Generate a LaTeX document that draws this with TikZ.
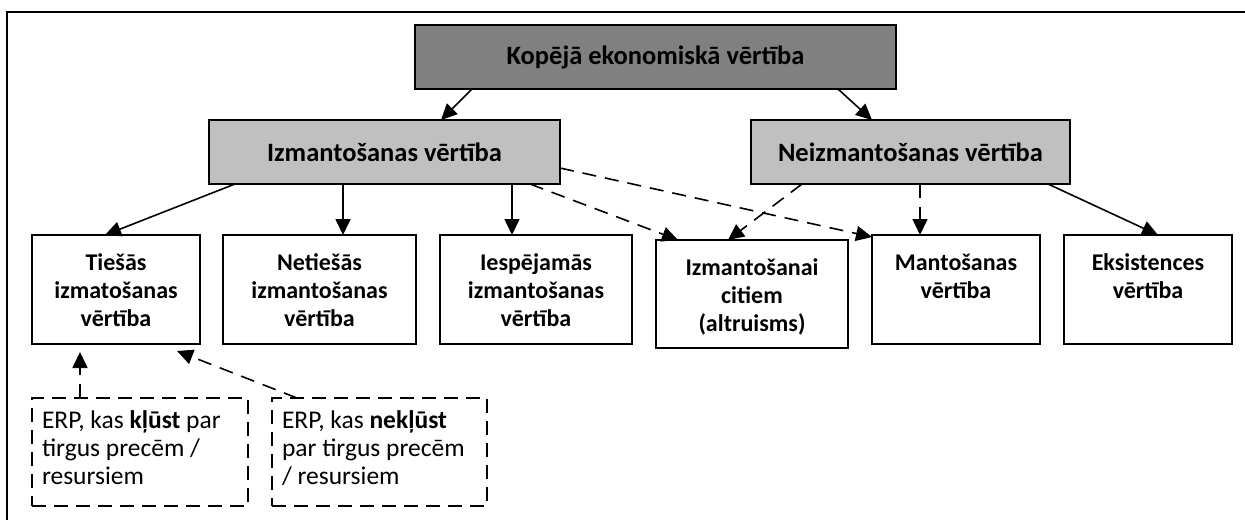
\documentclass[tikz,border=0pt]{standalone}
\usepackage{fontspec}
\setmainfont{Carlito}
\usetikzlibrary{arrows.meta,calc}
\definecolor{topgray}{HTML}{808080}
\definecolor{midgray}{HTML}{C0C0C0}
\tikzset{
  box/.style={draw=black, line width=1.7pt, inner sep=0pt, outer sep=0pt, fill=white},
  topbox/.style={box, fill=topgray, font=\fontsize{26.5}{31}\selectfont\bfseries},
  midbox/.style={box, fill=midgray, font=\fontsize{26.5}{31}\selectfont\bfseries},
  lowbox/.style={box, font=\fontsize{24}{28}\selectfont\bfseries},
  erpbox/.style={box, dash pattern=on 14pt off 8pt, font=\fontsize{25.5}{28.3}\selectfont},
  conn/.style={line width=1.6pt, -{Triangle[length=16pt,width=15pt]}},
  dconn/.style={conn, dash pattern=on 14pt off 9pt},
  frameline/.style={line width=1.7pt}
}
\newcommand{\lowtext}[3]{\parbox[c][#2pt][t]{#1pt}{\centering\rule{0pt}{35pt}#3\par}}
\newcommand{\erptext}[3]{\parbox[c][#2pt][t]{#1pt}{\raggedright\hspace*{10pt}\rule{0pt}{30pt}#3\par}}
\begin{document}
\begin{tikzpicture}[x=1pt,y=-1pt]
\useasboundingbox (0,0) rectangle (1245,520);
\coordinate (frTL) at (7,12);
\coordinate (frTR) at (1245,12);
\coordinate (frBL) at (7,520);
\draw[frameline] (frTR) -- (frTL) -- (frBL);

\node[topbox, minimum width=481pt, minimum height=64pt] (top) at (655.5,57) {Kopējā ekonomiskā vērtība};
\node[midbox, minimum width=351pt, minimum height=64pt] (izm) at (384.5,152) {Izmantošanas vērtība};
\node[midbox, minimum width=319pt, minimum height=64pt] (neizm) at (910.5,152) {Neizmantošanas vērtība};

\node[lowbox] (tiesas) at (116,289.5) {\lowtext{168}{109}{Tiešās\\izmatošanas\\vērtība}};
\node[lowbox] (netiesas) at (319.5,289.5) {\lowtext{193}{109}{Netiešās\\izmantošanas\\vērtība}};
\node[lowbox] (iesp) at (536,289.5) {\lowtext{192}{109}{Iespējamās\\izmantošanas\\vērtība}};
\node[lowbox] (izmcit) at (752,294) {\lowtext{192}{108}{Izmantošanai\\citiem\\(altruisms)}};
\node[lowbox] (mant) at (956,289.5) {\lowtext{168}{109}{Mantošanas\\vērtība}};
\node[lowbox] (eks) at (1148,289.5) {\lowtext{168}{109}{Eksistences\\vērtība}};

\node[erpbox] (erpa) at (140,452) {\erptext{216}{108}{ERP, kas \textbf{kļūst} par\\\hspace*{10pt}tirgus precēm /\\\hspace*{10pt}resursiem}};
\node[erpbox] (erpb) at (379.5,452) {\erptext{215}{108}{ERP, kas \textbf{nekļūst}\\\hspace*{10pt}par tirgus precēm\\\hspace*{10pt}/ resursiem}};

\draw[conn] ([xshift=57pt]top.south west) -- ([xshift=232pt]izm.north west);
\draw[conn] ([xshift=423pt]top.south west) -- ([xshift=121pt]neizm.north west);
\draw[conn] ([xshift=26pt]izm.south west) -- ([xshift=73pt]tiesas.north west);
\draw[conn] ([xshift=134pt]izm.south west) -- ([xshift=120pt]netiesas.north west);
\draw[conn] ([xshift=303pt]izm.south west) -- ([xshift=72pt]iesp.north west);
\draw[dconn] ([xshift=321pt]izm.south west) -- ([xshift=22pt]izmcit.north west);
\draw[dconn] ([yshift=-48pt]izm.north east) -- ([yshift=-2pt]mant.north west);
\draw[dconn] ([xshift=51pt]neizm.south west) -- ([xshift=72pt]izmcit.north west);
\draw[dconn] ([xshift=169pt]neizm.south west) -- ([xshift=48pt]mant.north west);
\draw[conn] ([xshift=297pt]neizm.south west) -- ([xshift=94pt]eks.north west);
\draw[dconn] ([xshift=48pt]erpa.north west) -- ([xshift=48pt,yshift=-8pt]tiesas.south west);
\draw[dconn] ([xshift=25pt]erpb.north west) -- ([xshift=145pt,yshift=-7pt]tiesas.south west);
\end{tikzpicture}
\end{document}
